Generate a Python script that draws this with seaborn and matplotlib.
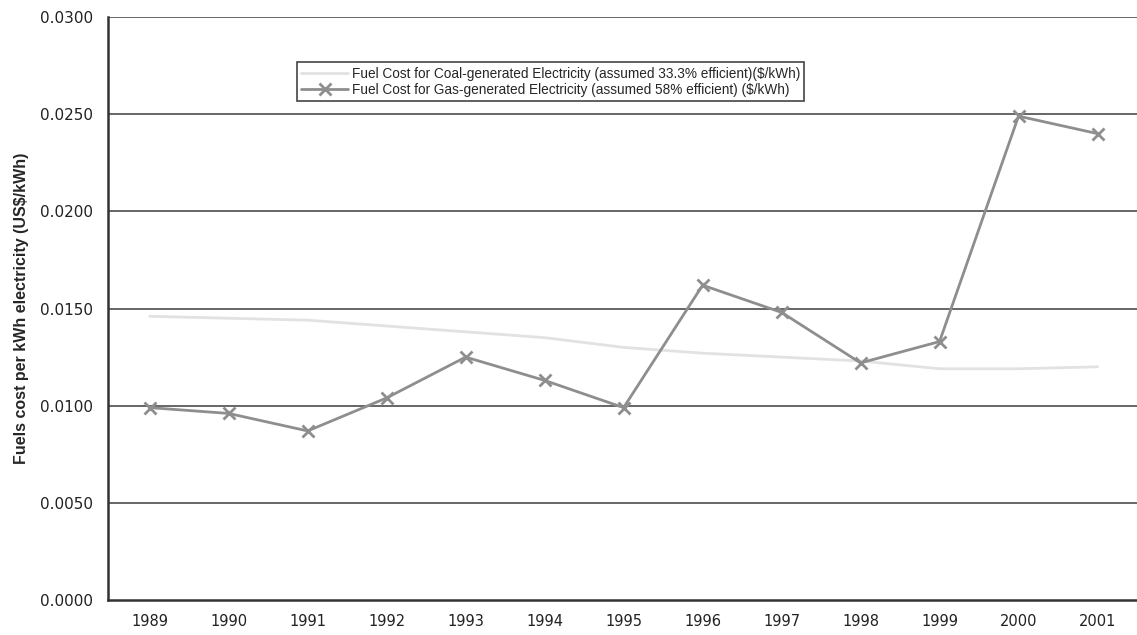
import matplotlib
matplotlib.use("Agg")
import matplotlib.pyplot as plt
import seaborn as sns
import pandas as pd

# Fuel cost per kWh of electricity, 1989-2001 (US$/kWh)
years = [1989, 1990, 1991, 1992, 1993, 1994, 1995, 1996, 1997, 1998, 1999, 2000, 2001]
coal_cost = [0.0146, 0.0145, 0.0144, 0.0141, 0.0138, 0.0135, 0.0130,
             0.0127, 0.0125, 0.0123, 0.0119, 0.0119, 0.0120]
gas_cost = [0.0099, 0.0096, 0.0087, 0.0104, 0.0125, 0.0113, 0.0099,
            0.0162, 0.0148, 0.0122, 0.0133, 0.0249, 0.0240]
coal_label = "Fuel Cost for Coal-generated Electricity (assumed 33.3% efficient)($/kWh)"
gas_label = "Fuel Cost for Gas-generated Electricity (assumed 58% efficient) ($/kWh)"
y_ticks = [0.0, 0.005, 0.010, 0.015, 0.020, 0.025, 0.030]

df = pd.DataFrame({"year": years, "coal": coal_cost, "gas": gas_cost})

sns.set_style("white")
plt.rcParams["font.family"] = ["Liberation Sans", "DejaVu Sans"]

fig = plt.figure(figsize=(11.37, 6.35), dpi=100)
ax = fig.add_axes([0.095, 0.0551, 0.905, 0.9181])

# horizontal grid lines at each major tick
for yv in y_ticks[1:]:
    ax.axhline(yv, color="#5a5a5a", lw=1.3, zorder=1)

sns.lineplot(data=df, x="year", y="coal", ax=ax, color="#e2e2e2", lw=2.0,
             label=coal_label, zorder=2)
sns.lineplot(data=df, x="year", y="gas", ax=ax, color="#8e8e8e", lw=2.0,
             marker="x", markersize=9, markeredgewidth=2.0,
             markeredgecolor="#8e8e8e", label=gas_label, zorder=3)

ax.set_xlim(1988.472, 2001.40)
ax.set_ylim(0, 0.030)
ax.set_xticks(years)
ax.set_xticklabels([str(y) for y in years], fontfamily="DejaVu Sans", fontsize=10.5)
ax.set_yticks(y_ticks)
ax.set_yticklabels([f"{v:.4f}" for v in y_ticks], fontfamily="DejaVu Sans",
                   fontsize=11)
ax.set_xlabel("")
ax.set_ylabel("Fuels cost per kWh electricity (US$/kWh)", fontsize=11.5,
              fontweight="bold", labelpad=8)

for s in ["top", "right"]:
    ax.spines[s].set_visible(False)
for s in ["left", "bottom"]:
    ax.spines[s].set_color("#333333")
    ax.spines[s].set_linewidth(1.8)

ax.tick_params(axis="y", which="major", direction="out", length=5, width=1,
               color="#333333", pad=6, labelcolor="#222222")
ax.tick_params(axis="x", which="major", length=0, pad=10, labelcolor="#222222")
# category boundary ticks on the x axis
ax.set_xticks([y + 0.5 for y in [1988] + years], minor=True)
ax.tick_params(axis="x", which="minor", direction="out", length=4, width=1,
               color="#333333")

leg = ax.legend(loc="upper left", bbox_to_anchor=(0.184, 0.922), fontsize=9.8,
                frameon=True, fancybox=False, framealpha=1, edgecolor="#444444",
                borderpad=0.3, labelspacing=0.15, handlelength=3.4,
                handletextpad=0.3, borderaxespad=0)
leg.get_frame().set_linewidth(1.2)

fig.savefig("out.png", dpi=100)
